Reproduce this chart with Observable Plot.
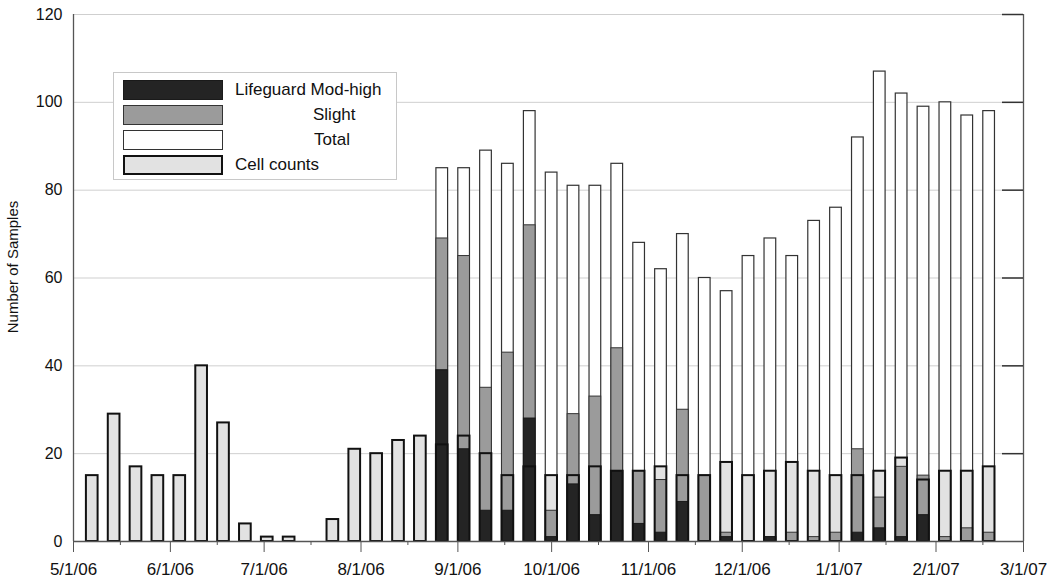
<!DOCTYPE html>
<html>
<head>
<meta charset="utf-8">
<script src="https://cdn.jsdelivr.net/npm/d3@7"></script>
<script src="https://cdn.jsdelivr.net/npm/@observablehq/plot@0.6"></script>
<style>
  body { margin: 0; background: #fff; }
  #wrap { position: relative; width: 1050px; height: 580px; font-family: "Liberation Sans", Arial, sans-serif; }
  #legend { position: absolute; left: 113px; top: 72px; width: 284px; height: 108px; border: 1px solid #c8c8c8; background: #fff; box-sizing: border-box; }
  .sw { position: absolute; left: 9px; width: 100px; height: 20px; box-sizing: border-box; border: 1.5px solid #333; }
  .lt { position: absolute; font-size: 17px; color: #111; line-height: 20px; white-space: nowrap; }
</style>
</head>
<body>
<div id="wrap"><div id="chart"></div><div id="legend"></div></div>
<script>
// Weekly sample dates (bar categories)
const weeks = [
  "2006-05-07","2006-05-14","2006-05-21","2006-05-28","2006-06-04","2006-06-11","2006-06-18","2006-06-25",
  "2006-07-02","2006-07-09","2006-07-16","2006-07-23","2006-07-30","2006-08-06","2006-08-13","2006-08-20",
  "2006-08-27","2006-09-03","2006-09-10","2006-09-17","2006-09-24","2006-10-01","2006-10-08","2006-10-15",
  "2006-10-22","2006-10-29","2006-11-05","2006-11-12","2006-11-19","2006-11-26","2006-12-03","2006-12-10",
  "2006-12-17","2006-12-24","2006-12-31","2007-01-07","2007-01-14","2007-01-21","2007-01-28","2007-02-04",
  "2007-02-11","2007-02-18"
];
const cellCounts = [15,29,17,15,15,40,27,4,1,1,0,5,21,20,23,24,
  22,24,20,15,17,15,15,17,16,16,17,15,15,18,15,16,18,16,15,15,16,19,14,16,16,17];
const totals = [null,null,null,null,null,null,null,null,null,null,null,null,null,null,null,null,
  85,85,89,86,98,84,81,81,86,68,62,70,60,57,65,69,65,73,76,92,107,102,99,100,97,98];
const slight = [null,null,null,null,null,null,null,null,null,null,null,null,null,null,null,null,
  69,65,35,43,72,7,29,33,44,16,14,30,15,2,0,1,2,1,2,21,10,17,15,1,3,2];
const modHigh = [null,null,null,null,null,null,null,null,null,null,null,null,null,null,null,null,
  39,21,7,7,28,1,13,6,16,4,2,9,0,1,0,1,0,0,0,2,3,1,6,0,0,0];

const yTicks = [0,20,40,60,80,100,120];
const majorTicks = ["2006-05-01","2006-06-01","2006-07-01","2006-08-01","2006-09-01","2006-10-01",
  "2006-11-01","2006-12-01","2007-01-01","2007-02-01","2007-03-01"];
const minorTicks = ["2006-05-16","2006-06-16","2006-07-16","2006-08-16","2006-09-16","2006-10-16",
  "2006-11-16","2006-12-16","2007-01-16","2007-02-16"];

const legendLabels = ["Lifeguard Mod-high","Slight","Total","Cell counts"];
const legendFills = ["#242424","#9b9b9b","#ffffff","#e2e2e2"];

const rows = weeks.map((w, i) => ({
  date: new Date(w), cell: cellCounts[i], total: totals[i], slight: slight[i], mod: modHigh[i]
}));
const half = 1.87 * 864e5;
const bx1 = d => new Date(+d.date - half);
const bx2 = d => new Date(+d.date + half);
const xDomain = [new Date(majorTicks[0]), new Date(majorTicks[majorTicks.length - 1])];

const chart = Plot.plot({
  width: 1050, height: 580,
  marginLeft: 73, marginRight: 27, marginTop: 14, marginBottom: 39,
  x: { type: "utc", domain: xDomain },
  y: { domain: [0, 120] },
  style: { fontFamily: '"Liberation Sans", Arial, sans-serif', color: "#111", background: "#fff" },
  marks: [
    Plot.gridY(yTicks.filter(v => v > 0), { stroke: "#cfcfcf", strokeOpacity: 1 }),
    Plot.rect(rows.filter(d => d.total != null), { x1: bx1, x2: bx2, y1: 0, y2: "total", fill: "#fff", stroke: "#333", strokeWidth: 1.2 }),
    Plot.rect(rows, { x1: bx1, x2: bx2, y1: 0, y2: "cell", fill: "#e2e2e2" }),
    Plot.rect(rows.filter(d => d.slight > 0), { x1: bx1, x2: bx2, y1: 0, y2: "slight", fill: "#9b9b9b", stroke: "#333", strokeWidth: 1 }),
    Plot.rect(rows.filter(d => d.mod > 0), { x1: bx1, x2: bx2, y1: 0, y2: "mod", fill: "#242424", stroke: "#1a1a1a", strokeWidth: 1 }),
    Plot.rect(rows, { x1: bx1, x2: bx2, y1: 0, y2: "cell", fill: "none", stroke: "#111", strokeWidth: 2 }),
    Plot.ruleY([0], { stroke: "#555", strokeWidth: 1.3 }),
    Plot.ruleX([xDomain[0]], { stroke: "#555", strokeWidth: 1.3 }),
    Plot.ruleX([xDomain[1]], { stroke: "#555", strokeWidth: 1.3 }),
    Plot.tickY(yTicks.filter(v => v > 0), { y: d => d, stroke: "#333", strokeWidth: 1.5, insetLeft: 929 }),
    Plot.axisY(yTicks, { tickSize: 0, tickPadding: 11, fontSize: 16, label: null }),
    Plot.axisX(majorTicks.map(d => new Date(d)), { tickSize: 11, tickPadding: 10, fontSize: 17, label: null,
      tickFormat: d3.utcFormat("%-m/%-d/%y"), stroke: "#555" }),
    Plot.axisX(minorTicks.map(d => new Date(d)), { tickSize: 4, tickFormat: () => "", label: null, stroke: "#555" }),
    Plot.text(["Number of Samples"], { frameAnchor: "left", textAnchor: "middle", rotate: -90, dx: -60, dy: -11, fontSize: 15, fill: "#111" })
  ]
});
document.getElementById("chart").appendChild(chart);

// Legend (overlaid inside the plot area)
const legend = document.getElementById("legend");
const swTops = [7, 32, 57, 82];
const textLefts = [121, 199, 200, 121];
legendLabels.forEach((lab, i) => {
  const s = document.createElement("div");
  s.className = "sw";
  s.style.top = swTops[i] + "px";
  s.style.background = legendFills[i];
  if (i === 3) s.style.border = "2px solid #111";
  if (i === 0) s.style.borderColor = "#1a1a1a";
  legend.appendChild(s);
  const t = document.createElement("div");
  t.className = "lt";
  t.style.top = swTops[i] + "px";
  t.style.left = textLefts[i] + "px";
  t.textContent = lab;
  legend.appendChild(t);
});
</script>
</body>
</html>
